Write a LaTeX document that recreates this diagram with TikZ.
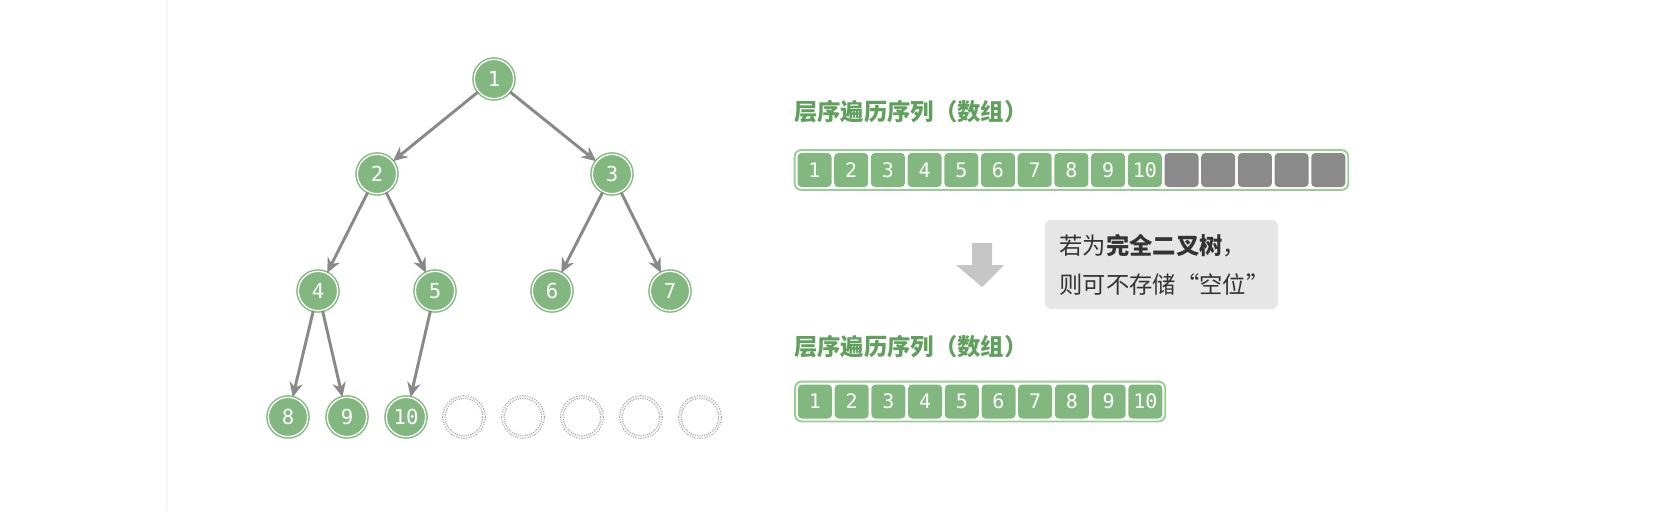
\documentclass[tikz,border=0pt]{standalone}
\usepackage{fontspec}
\setmonofont{DejaVu Sans Mono}
\newfontfamily\cjk{Noto Sans CJK SC}
\usetikzlibrary{arrows.meta,fit}
\definecolor{nodegreen}{HTML}{82B880}
\definecolor{ringgreen}{HTML}{98CC95}
\definecolor{titlegreen}{HTML}{5FA05C}
\definecolor{linkgray}{HTML}{898989}
\definecolor{cellgray}{HTML}{8A8A8A}
\definecolor{notegray}{HTML}{E6E6E6}
\definecolor{notetext}{HTML}{333333}

\begin{document}
\begin{tikzpicture}[x=0.75pt,y=-0.75pt,
	treenode/.style={circle,fill=nodegreen,draw=nodegreen,double=white,double distance=1pt,line width=1.1pt,minimum size=29.5pt,inner sep=0,text=white,font=\ttfamily\fontsize{15.5}{15.5}\selectfont},
	emptynode/.style={circle,draw=gray!75,densely dotted,double=white,double distance=1.2pt,line width=0.8pt,minimum size=30pt,inner sep=0},
	link/.style={draw=linkgray,line width=2.2pt,-{Stealth[length=11pt,width=10pt]}},
	cell/.style={rectangle,rounded corners=3pt,fill=nodegreen,minimum width=25.5pt,minimum height=25.5pt,inner sep=0,text=white,font=\ttfamily\fontsize{15}{15}\selectfont},
	graycell/.style={cell,fill=cellgray},
	arraybox/.style={draw=ringgreen,line width=1.4pt,rounded corners=5pt,inner sep=2pt},
	title/.style={anchor=west,inner sep=0,text=titlegreen,font=\cjk\bfseries\fontsize{17.5}{17.5}\selectfont},
	note/.style={fill=notegray,rounded corners=5pt,minimum height=67pt,text width=153pt,inner xsep=11pt,align=left,text=notetext,font=\cjk\fontsize{17.5}{29}\selectfont}]
	\useasboundingbox (0,0) rectangle (1656,511);
	\draw[gray!6,line width=0.8pt] (167,0) -- (167,511);
	\node[treenode] (n1) at (494,79) {1};
	\node[treenode] (n2) at (377,174) {2};
	\node[treenode] (n3) at (612,174) {3};
	\node[treenode] (n4) at (318,291) {4};
	\node[treenode] (n5) at (435,291) {5};
	\node[treenode] (n6) at (552,291) {6};
	\node[treenode] (n7) at (670,291) {7};
	\node[treenode] (n8) at (288,417) {8};
	\node[treenode] (n9) at (347,417) {9};
	\node[treenode] (n10) at (406,417) {10};
	\foreach \x [count=\k] in {464,523,582,641,700}
		\node[emptynode] (e\k) at (\x,417) {};
	\draw[link] (n1) -- (n2);
	\draw[link] (n1) -- (n3);
	\draw[link] (n2) -- (n4);
	\draw[link] (n2) -- (n5);
	\draw[link] (n3) -- (n6);
	\draw[link] (n3) -- (n7);
	\draw[link] (n4) -- (n8);
	\draw[link] (n4) -- (n9);
	\draw[link] (n5) -- (n10);
	\node[title] (titleA) at (794,112) {层序遍历序列（数组）};
	\foreach \i in {1,...,10}
		\node[cell] (a\i) at ({814.5+36.7*(\i-1)},170) {\i};
	\foreach \i in {11,...,15}
		\node[graycell] (a\i) at ({814.5+36.7*(\i-1)},170) {};
	\node[arraybox,fit=(a1)(a15)] (arrA) {};
	\fill[gray!45] (972,243) -- (992,243) -- (992,265) -- (1004,265) -- (982,287) -- (956,265) -- (972,265) -- cycle;
	\node[note] (tip) at (1161.5,264.5) {若为{\bfseries 完全二叉树}，\\则可不存储“空位”};
	\node[title] (titleB) at (794,347) {层序遍历序列（数组）};
	\foreach \i in {1,...,10}
		\node[cell] (b\i) at ({815+36.7*(\i-1)},401.5) {\i};
	\node[arraybox,fit=(b1)(b10)] (arrB) {};
\end{tikzpicture}
\end{document}
